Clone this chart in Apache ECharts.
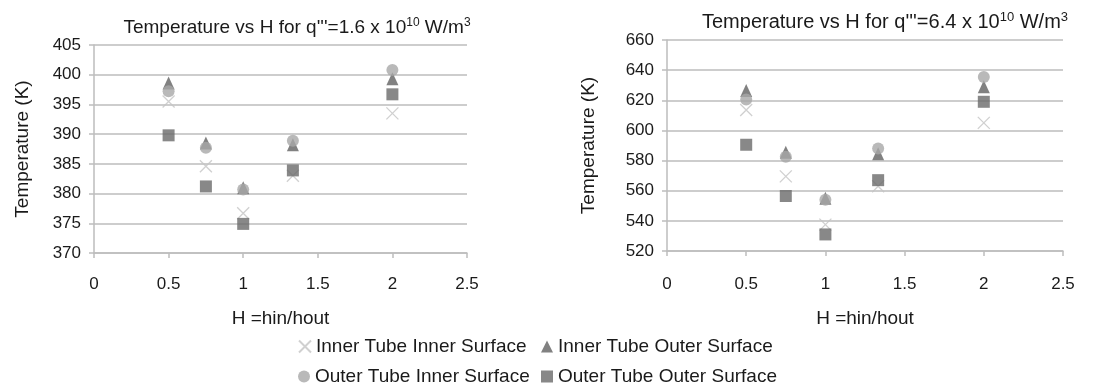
<!DOCTYPE html>
<html>
<head>
<meta charset="utf-8">
<script src="https://cdn.jsdelivr.net/npm/echarts@6/dist/echarts.min.js"></script>
<style>
html,body{margin:0;padding:0;background:#fff;}
#c{width:1101px;height:390px;}
</style>
</head>
<body>
<div id="c"></div>
<script>
// ---- data ----
var H = [0.5, 0.75, 1, 1.333, 2];
var seriesNames = ['Inner Tube Inner Surface', 'Inner Tube Outer Surface', 'Outer Tube Inner Surface', 'Outer Tube Outer Surface'];
// q''' = 1.6e10
var leftIIS = [395.5, 384.6, 376.7, 383.0, 393.5];
var leftIOS = [398.6, 388.5, 381.0, 388.2, 399.3];
var leftOIS = [397.2, 387.7, 380.7, 388.9, 400.8];
var leftOOS = [389.8, 381.2, 374.9, 383.9, 396.7];
// q''' = 6.4e10
var rightIIS = [613.5, 569.5, 537.5, 563.0, 605.0];
var rightIOS = [626.5, 585.5, 555.0, 584.5, 629.0];
var rightOIS = [620.5, 582.5, 554.0, 588.0, 635.5];
var rightOOS = [590.5, 556.5, 531.0, 567.0, 619.0];
var xTicks = [0, 0.5, 1, 1.5, 2, 2.5];
var leftYTicks = [370, 375, 380, 385, 390, 395, 400, 405];
var rightYTicks = [520, 540, 560, 580, 600, 620, 640, 660];

function pairs(ys) { return H.map(function (h, i) { return [h, ys[i]]; }); }

var FONT = '"Liberation Sans", Arial, sans-serif';
var TXT = '#1a1a1a';
var crossPath = 'path://M0,0L10,10M10,0L0,10';

var styles = [
  { symbol: crossPath, symbolSize: 12, itemStyle: { color: 'rgba(0,0,0,0)', borderColor: '#c4c4c4', borderWidth: 1.3 } },
  { symbol: 'triangle', symbolSize: [12, 13], itemStyle: { color: '#626262' } },
  { symbol: 'circle', symbolSize: 12, itemStyle: { color: '#a8a8a8' } },
  { symbol: 'rect', symbolSize: 12, itemStyle: { color: '#6a6a6a' } }
];

function mkSeries(idx, name, ys) {
  var s = styles[name];
  return {
    type: 'scatter', name: seriesNames[name], xAxisIndex: idx, yAxisIndex: idx,
    data: pairs(ys), symbol: s.symbol, symbolSize: s.symbolSize, itemStyle: s.itemStyle,
    emphasis: { disabled: true }, animation: false
  };
}

function xAxis(idx, gap, margin) {
  return {
    type: 'value', gridIndex: idx, min: xTicks[0], max: xTicks[xTicks.length - 1], interval: 0.5,
    name: 'H =hin/hout', nameLocation: 'middle', nameGap: gap,
    nameTextStyle: { fontFamily: FONT, fontSize: 19, color: TXT },
    axisLine: { show: true, lineStyle: { color: '#bdbdbd', width: 1.5 } },
    axisTick: { show: true, length: 5, lineStyle: { color: '#bdbdbd', width: 1.5 } },
    axisLabel: { fontFamily: FONT, fontSize: 17, color: TXT, margin: margin },
    splitLine: { show: false }
  };
}
function yAxis(idx, ticks, gap) {
  return {
    type: 'value', gridIndex: idx, min: ticks[0], max: ticks[ticks.length - 1], interval: ticks[1] - ticks[0],
    name: 'Temperature (K)', nameLocation: 'middle', nameGap: gap, nameRotate: 90,
    nameTextStyle: { fontFamily: FONT, fontSize: 19, color: TXT },
    axisLine: { show: true, lineStyle: { color: '#bdbdbd', width: 1.5 } },
    axisTick: { show: true, length: 5, lineStyle: { color: '#bdbdbd', width: 1.5 } },
    axisLabel: { fontFamily: FONT, fontSize: 17, color: TXT, margin: 13 },
    splitLine: { show: true, lineStyle: { color: '#bdbdbd', width: 1.5 } }
  };
}

function supRich(size) {
  return { sup: { fontFamily: FONT, fontSize: size, color: TXT, padding: [0, 0, 9, 0] } };
}
function legend(name, left, top) {
  return {
    data: [name], left: left, top: top, itemWidth: 12, itemHeight: 12, padding: 0,
    selectedMode: false,
    textStyle: { fontFamily: FONT, fontSize: 19, color: TXT }
  };
}

var option = {
  backgroundColor: '#fff',
  animation: false,
  title: [
    { text: "Temperature vs H for q'''=1.6 x 10{sup|10} W/m{sup|3}", left: 292, top: 12, textAlign: 'center',
      textStyle: { fontFamily: FONT, fontSize: 19, fontWeight: 'normal', color: TXT, rich: supRich(12) } },
    { text: "Temperature vs H for q'''=6.4 x 10{sup|10} W/m{sup|3}", left: 880, top: 6, textAlign: 'center',
      textStyle: { fontFamily: FONT, fontSize: 20, fontWeight: 'normal', color: TXT, rich: supRich(13) } }
  ],
  legend: [
    legend(seriesNames[0], 298, 337),
    legend(seriesNames[1], 541, 337),
    legend(seriesNames[2], 298, 367),
    legend(seriesNames[3], 541, 367)
  ],
  grid: [
    { left: 94, top: 45, width: 373, height: 208 },
    { left: 667, top: 40, width: 396, height: 211 }
  ],
  xAxis: [xAxis(0, 56, 23), xAxis(1, 58, 25)],
  yAxis: [yAxis(0, leftYTicks, 62), yAxis(1, rightYTicks, 69)],
  series: [
    mkSeries(0, 0, leftIIS), mkSeries(0, 1, leftIOS), mkSeries(0, 2, leftOIS), mkSeries(0, 3, leftOOS),
    mkSeries(1, 0, rightIIS), mkSeries(1, 1, rightIOS), mkSeries(1, 2, rightOIS), mkSeries(1, 3, rightOOS)
  ]
};
var chart = echarts.init(document.getElementById('c'), null, { renderer: 'canvas' });
chart.setOption(option);
</script>
</body>
</html>
